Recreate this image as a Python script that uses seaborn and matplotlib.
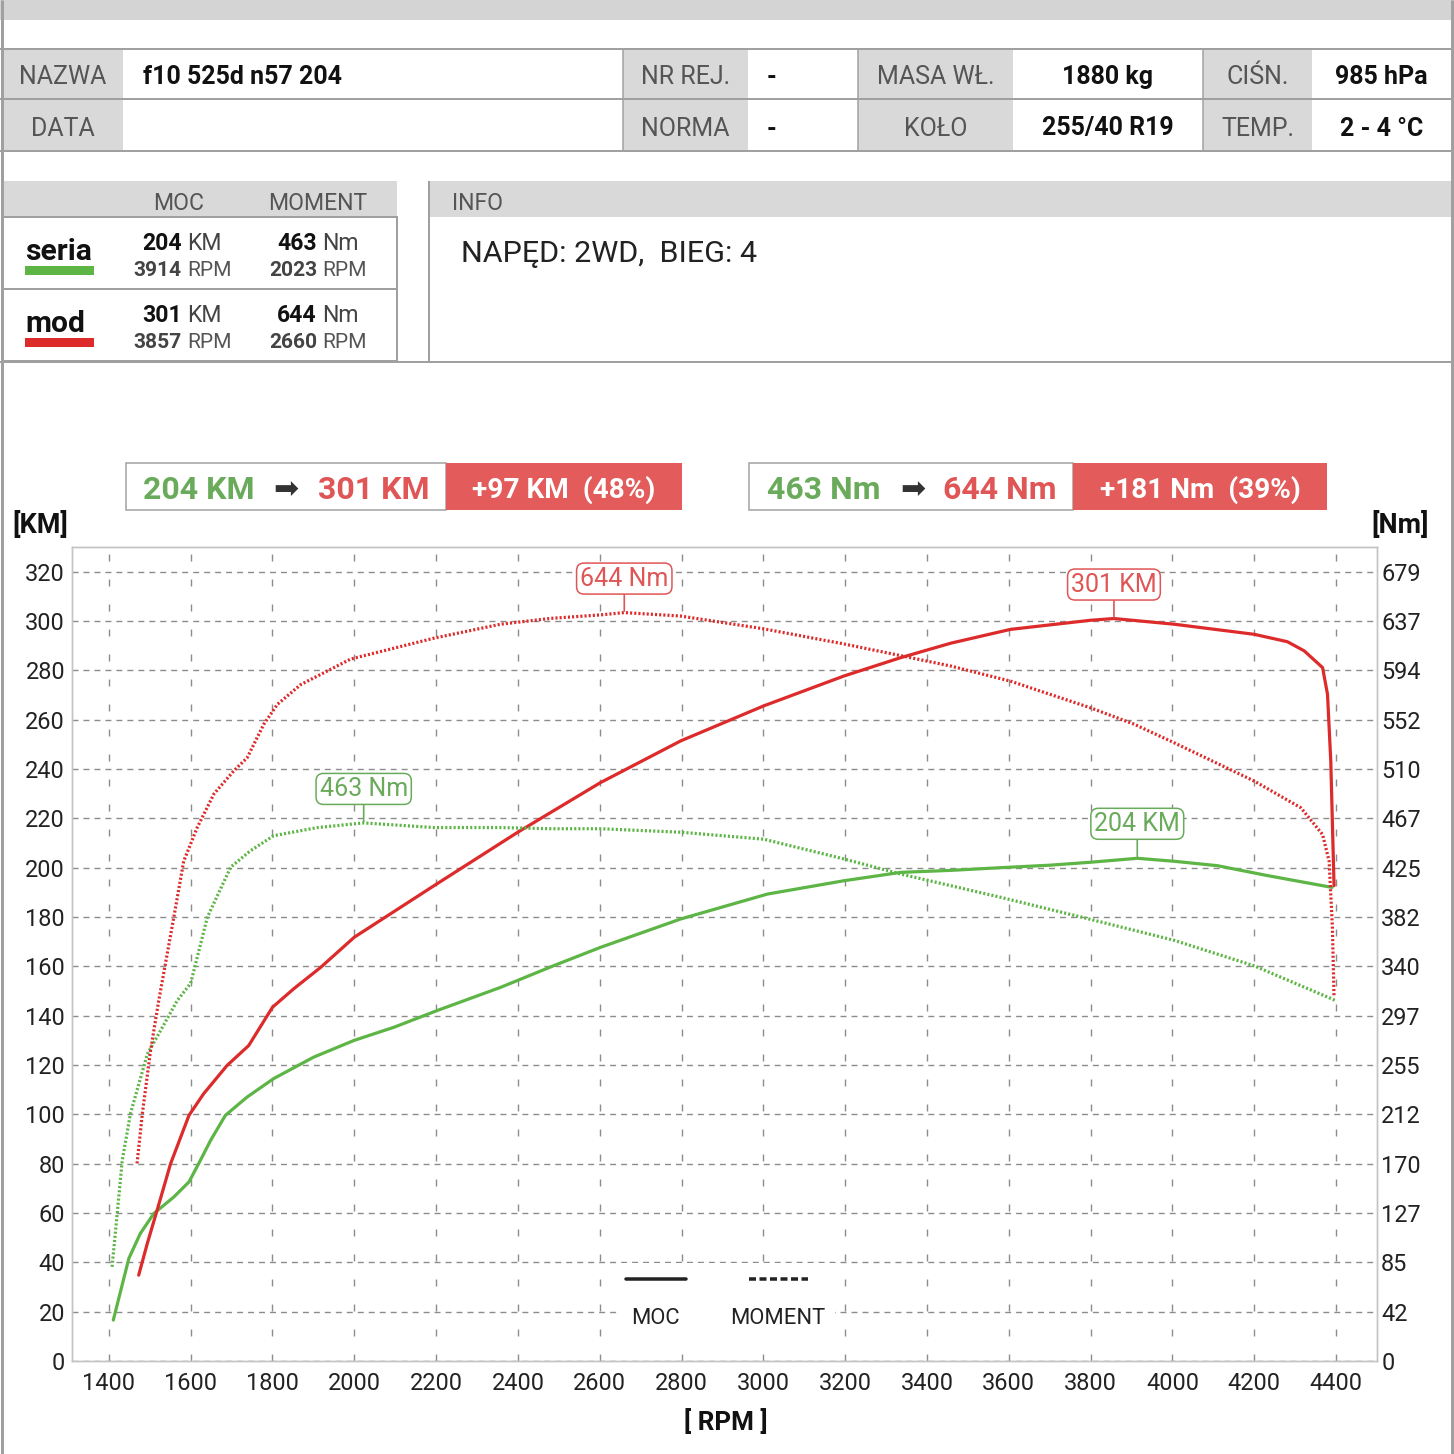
import numpy as np
import pandas as pd
import matplotlib
matplotlib.use("Agg")
import matplotlib.pyplot as plt
import seaborn as sns
from matplotlib.lines import Line2D
from matplotlib.patches import Rectangle
from matplotlib.offsetbox import VPacker

# ---------------- data ----------------
seria_moc_rpm = [1411, 1449, 1477, 1510, 1559, 1596, 1624, 1649, 1685, 1738, 1803, 1901, 2000, 2097, 2203,
                 2358, 2488, 2602, 2798, 3010, 3197, 3336, 3458, 3580, 3700, 3800, 3914, 4004, 4110, 4232, 4390]
seria_moc_km = [16.6, 41.6, 51.7, 59.8, 66.5, 72.6, 81.4, 89.5, 99.6, 107.0, 114.5, 123.2, 130.0, 135.3, 142.1,
                151.5, 160.3, 167.7, 179.2, 189.3, 194.7, 198.1, 198.9, 200.0, 201.0, 202.2, 203.8, 202.6, 200.8, 196.8, 192.0]

mod_moc_rpm = [1473, 1494, 1518, 1551, 1596, 1632, 1689, 1742, 1800, 1852, 1918, 2000, 2195, 2399, 2602,
               2798, 3001, 3197, 3335, 3458, 3604, 3800, 3857, 4004, 4200, 4281, 4322, 4367, 4379, 4387, 4395]
mod_moc_km = [34.8, 47.6, 61.1, 80.0, 99.6, 108.4, 119.8, 127.9, 143.4, 150.9, 159.6, 171.8, 192.7, 214.3, 234.5,
              251.4, 265.6, 277.7, 285.1, 291.0, 296.6, 300.3, 301.0, 298.7, 294.6, 291.6, 287.9, 281.1, 270.3, 243.3, 192.7]

seria_moment_rpm = [1408, 1433, 1453, 1494, 1526, 1567, 1600, 1641, 1698, 1746, 1803, 1910, 2023, 2195, 2358,
                    2480, 2602, 2798, 3001, 3197, 3336, 3458, 3580, 3800, 4004, 4200, 4400]
seria_moment_nm = [81, 173, 213, 264, 284, 310, 325, 382, 425, 439, 452, 459, 463, 459, 459,
                   458, 458, 455, 449, 432, 419, 409, 399, 380, 362, 340, 310]

mod_moment_rpm = [1469, 1482, 1502, 1522, 1559, 1583, 1616, 1657, 1706, 1738, 1779, 1812, 1869, 1991, 2195,
                  2358, 2480, 2602, 2660, 2798, 3001, 3197, 3335, 3458, 3604, 3800, 3906, 4004, 4200, 4314,
                  4367, 4383, 4391, 4395]
mod_moment_nm = [170, 213, 267, 310, 382, 430, 459, 488, 508, 519, 548, 565, 582, 604, 622,
                 634, 639, 642, 644, 641, 630, 617, 607, 598, 585, 562, 548, 532, 499, 476,
                 453, 430, 373, 313]

rpm_ticks = list(range(1400, 4401, 200))
km_ticks = list(range(0, 321, 20))
nm_tick_labels = ["0", "42", "85", "127", "170", "212", "255", "297", "340", "382", "425",
                  "467", "510", "552", "594", "637", "679"]
NM_PER_KM = 2.1225  # scale between right and left axis

# peaks (summary table)
series_names = ["seria", "mod"]
peak_km = [204, 301]
peak_km_rpm = [3914, 3857]
peak_nm = [463, 644]
peak_nm_rpm = [2023, 2660]
gain_text = ["+97 KM  (48%)", "+181 Nm  (39%)"]

row1_labels = ["NAZWA", "NR REJ.", "MASA WŁ.", "CIŚN."]
row1_values = ["f10 525d n57 204", "-", "1880 kg", "985 hPa"]
row2_labels = ["DATA", "NORMA", "KOŁO", "TEMP."]
row2_values = ["", "-", "255/40 R19", "2 - 4 °C"]
info_text = "NAPĘD: 2WD,  BIEG: 4"

# ---------------- style ----------------
GREEN = "#5db546"
RED = "#dd2a2a"
TGREEN = "#6aab5b"
TRED = "#e05555"
RFILL = "#e35b5b"
GRAYCELL = "#d9d9d9"
LINEGRAY = "#a0a0a0"
GRIDGRAY = "#8c8c8c"

sns.set_theme(style="white")
plt.rcParams["font.family"] = ["Roboto", "DejaVu Sans"]

W = H = 1454
fig = plt.figure(figsize=(W / 100, H / 100), dpi=100)
fig.patch.set_facecolor("white")

# overlay axes in pixel coordinates for the report layout
ov = fig.add_axes([0, 0, 1, 1], zorder=0)
ov.set_xlim(0, W)
ov.set_ylim(H, 0)
ov.axis("off")


def P(v):
    return v * 0.72


def rect(x0, y0, x1, y1, fc="none", ec="none", lw=0):
    ov.add_patch(Rectangle((x0, y0), x1 - x0, y1 - y0, facecolor=fc, edgecolor=ec, linewidth=lw))


def hline(y, x0, x1, lw=2, c=LINEGRAY):
    ov.plot([x0, x1], [y, y], color=c, lw=P(lw), solid_capstyle="butt")


def vline(x, y0, y1, lw=2, c=LINEGRAY):
    ov.plot([x, x], [y0, y1], color=c, lw=P(lw), solid_capstyle="butt")


def txt(x, y, s, size, color="#222222", weight="normal", ha="center"):
    ov.text(x, y, s, fontsize=P(size), color=color, fontweight=weight, ha=ha, va="center_baseline")


# top band
rect(0, 0, W, 20, fc="#d4d4d4")
vline(1.5, 0, H, lw=3)
vline(W - 2, 0, H, lw=3)

# header table
label_cells = [(2, 123), (623, 748), (858, 1013), (1203, 1312)]
value_cells = [(123, 623), (748, 858), (1013, 1203), (1312, W - 3)]
value_align = [("left", 143), ("left", 767), ("center", None), ("center", None)]
rows = [(49, 98, row1_labels, row1_values), (100, 150, row2_labels, row2_values)]
for (y0, y1, labs, vals) in rows:
    yc = (y0 + y1) / 2 + 1
    for (cx0, cx1), lab in zip(label_cells, labs):
        rect(cx0, y0, cx1, y1, fc=GRAYCELL)
        txt((cx0 + cx1) / 2, yc, lab, 25, color="#555555")
    for (cx0, cx1), val, (al, xx) in zip(value_cells, vals, value_align):
        if al == "left":
            txt(xx, yc, val, 25, color="#111111", weight="bold", ha="left")
        else:
            txt((cx0 + cx1) / 2, yc, val, 25, color="#111111", weight="bold")
for y in (48.5, 99, 151):
    hline(y, 0, W)
for (cx0, cx1) in label_cells[1:]:
    vline(cx0, 48.5, 151, lw=1.5)

# summary table
rect(2, 181, 397, 217, fc=GRAYCELL)
txt(179, 201, "MOC", 23, color="#555555")
txt(318, 201, "MOMENT", 23, color="#555555")
rect(2, 217, 397, 361, ec=LINEGRAY, lw=P(2))
hline(289, 2, 397)
bar_colors = [GREEN, RED]
row_centers = [253, 325]
for i, name in enumerate(series_names):
    yc = row_centers[i]
    txt(25, yc - 4, name, 30, color="#111111", weight="bold", ha="left")
    rect(25, yc + 13, 94, yc + 22, fc=bar_colors[i])
    txt(182, yc - 12, f"{peak_km[i]}", 23, color="#111111", weight="bold", ha="right")
    txt(187, yc - 12, "KM", 23, color="#444444", ha="left")
    txt(182, yc + 15, f"{peak_km_rpm[i]}", 21, color="#444444", weight="bold", ha="right")
    txt(187, yc + 15, "RPM", 21, color="#555555", ha="left")
    txt(317, yc - 12, f"{peak_nm[i]}", 23, color="#111111", weight="bold", ha="right")
    txt(322, yc - 12, "Nm", 23, color="#444444", ha="left")
    txt(317, yc + 15, f"{peak_nm_rpm[i]}", 21, color="#444444", weight="bold", ha="right")
    txt(322, yc + 15, "RPM", 21, color="#555555", ha="left")

# info box
rect(429, 181, W - 3, 217, fc=GRAYCELL)
txt(452, 201, "INFO", 23, color="#555555", ha="left")
vline(429, 181, 362)
hline(362, 0, W)
txt(461, 251, info_text, 30.5, color="#222222", ha="left")

# comparison boxes
boxes = [
    dict(x0=126, xm=446, x1=682, a=f"{peak_km[0]} KM", b=f"{peak_km[1]} KM", ax_=143, arx=286, bx=318, g=gain_text[0]),
    dict(x0=749, xm=1073, x1=1327, a=f"{peak_nm[0]} Nm", b=f"{peak_nm[1]} Nm", ax_=767, arx=913, bx=943, g=gain_text[1]),
]
for bx in boxes:
    rect(bx["x0"], 463, bx["xm"], 510, fc="white", ec=LINEGRAY, lw=P(1.5))
    rect(bx["xm"], 463, bx["x1"], 510, fc=RFILL)
    txt(bx["ax_"], 487, bx["a"], 32, color=TGREEN, weight="bold", ha="left")
    ov.text(bx["arx"], 487, "➡", fontsize=P(30), color="#333333", ha="center", va="center_baseline",
            family=["DejaVu Sans"])
    txt(bx["bx"], 487, bx["b"], 32, color=TRED, weight="bold", ha="left")
    txt((bx["xm"] + bx["x1"]) / 2, 487, bx["g"], 28, color="white", weight="bold")

# axis titles
txt(40, 522, "[KM]", 27, color="#111111", weight="bold")
txt(1400, 522, "[Nm]", 27, color="#111111", weight="bold")
txt(726, 1420, "[ RPM ]", 26, color="#111111", weight="bold")

# ---------------- chart ----------------
L, R, T, B = 72, 1377, 547, 1361
ax = fig.add_axes([L / W, (H - B) / H, (R - L) / W, (B - T) / H], zorder=2)
ax.set_facecolor("white")
ax2 = ax.twinx()

ax.set_xlim(1310, 4500)
ax.set_ylim(0, 330)
ax2.set_ylim(0, 330 * NM_PER_KM)

ax.set_xticks(rpm_ticks)
ax.set_yticks(km_ticks)
ax2.set_yticks(np.array(km_ticks) * NM_PER_KM, labels=nm_tick_labels)

ax.set_axisbelow(True)
ax.xaxis.grid(True, color=GRIDGRAY, lw=1.0, linestyle=(0, (5.0, 13.0)))
ax.yaxis.grid(True, color=GRIDGRAY, lw=1.0, linestyle=(0, (4.3, 3.6)))
ax2.grid(False)

lw_main = P(3.2)
df_sp = pd.DataFrame({"rpm": seria_moc_rpm, "v": seria_moc_km})
df_mp = pd.DataFrame({"rpm": mod_moc_rpm, "v": mod_moc_km})
df_st = pd.DataFrame({"rpm": seria_moment_rpm, "v": seria_moment_nm})
df_mt = pd.DataFrame({"rpm": mod_moment_rpm, "v": mod_moment_nm})

sns.lineplot(data=df_st, x="rpm", y="v", ax=ax2, color=GREEN, lw=lw_main, sort=False, estimator=None,
             linestyle=(0, (0.65, 0.65)))
sns.lineplot(data=df_mt, x="rpm", y="v", ax=ax2, color=RED, lw=lw_main, sort=False, estimator=None,
             linestyle=(0, (0.65, 0.65)))
sns.lineplot(data=df_sp, x="rpm", y="v", ax=ax, color=GREEN, lw=lw_main, sort=False, estimator=None)
sns.lineplot(data=df_mp, x="rpm", y="v", ax=ax, color=RED, lw=lw_main, sort=False, estimator=None)
ax.set_zorder(1)
ax2.set_zorder(2)

for a in (ax, ax2):
    a.set_xlabel("")
    a.set_ylabel("")
    for s in a.spines.values():
        s.set_color("#c4c4c4")
        s.set_linewidth(1.0)

ax.set_xlim(1310, 4500)
ax.tick_params(axis="x", direction="in", length=6, width=1, color="#999999", pad=8,
               labelsize=P(23.5), labelcolor="#222222")
ax.tick_params(axis="y", length=0, pad=5, labelsize=P(23.5), labelcolor="#222222")
ax2.tick_params(axis="y", length=0, pad=3, labelsize=P(23.5), labelcolor="#222222")


def peak_note(axis, x, y, label, color):
    axis.annotate(label, xy=(x, y), xytext=(0, P(34)), textcoords="offset points",
                  ha="center", va="center", fontsize=P(25), color=color, zorder=6,
                  bbox=dict(boxstyle="round,pad=0.14,rounding_size=0.3", fc="white", ec=color, lw=1.1),
                  arrowprops=dict(arrowstyle="-", color=color, lw=1.2, shrinkA=0, shrinkB=1))


peak_note(ax2, peak_nm_rpm[0], peak_nm[0], f"{peak_nm[0]} Nm", TGREEN)
peak_note(ax2, peak_nm_rpm[1], peak_nm[1], f"{peak_nm[1]} Nm", TRED)
peak_note(ax2, peak_km_rpm[0], peak_km[0] * NM_PER_KM, f"{peak_km[0]} KM", TGREEN)
peak_note(ax2, peak_km_rpm[1], peak_km[1] * NM_PER_KM, f"{peak_km[1]} KM", TRED)

# legend: line above label
handles = [Line2D([], [], color="#222222", lw=P(3.5), ls="-"),
           Line2D([], [], color="#222222", lw=P(3.5), ls=(0, (2.0, 1.0)))]
leg = ax2.legend(handles=handles, labels=["MOC", "MOMENT"], ncol=2, loc="center",
                 bbox_to_anchor=((726 - L) / (R - L), (B - 1300) / (B - T)),
                 frameon=True, fontsize=P(22), handlelength=2.7, columnspacing=2.05,
                 handletextpad=0.0, borderpad=0.4, fancybox=False)
leg.get_frame().set_facecolor("white")
leg.get_frame().set_edgecolor("none")
leg.get_frame().set_alpha(1)
for col in leg._legend_handle_box.get_children():
    for item in col.get_children():
        item.__class__ = VPacker
        item.align = "center"
        item.sep = 15
for t in leg.get_texts():
    t.set_color("#222222")

fig.savefig("out.png", dpi=100, facecolor="white")
